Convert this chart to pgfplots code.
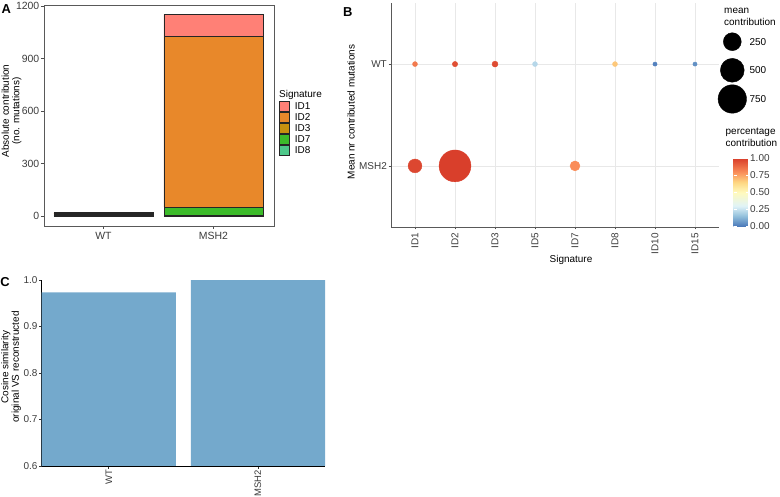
\documentclass[border=0pt]{standalone}
\usepackage{fontspec}
\setmainfont{Liberation Sans}
\usepackage{pgfplots}
\pgfplotsset{compat=1.18}
\usepackage{pgfplotstable}
\usetikzlibrary{calc}

\definecolor{cID1}{RGB}{255,128,118}
\definecolor{cID2}{RGB}{232,136,42}
\definecolor{cID3}{RGB}{200,144,15}
\definecolor{cID7}{RGB}{60,187,42}
\definecolor{cID8}{RGB}{78,200,138}
\definecolor{barC}{RGB}{116,169,204}
\definecolor{tickgray}{RGB}{60,60,60}

\pgfplotsset{
  /pgf/number format/assume math mode=true,
  /pgf/number format/set thousands separator={},
  colormap={rdylbu}{rgb255(0cm)=(74,120,185) rgb255(3cm)=(145,191,219) rgb255(6cm)=(224,243,248) rgb255(10cm)=(255,250,190) rgb255(13cm)=(254,215,130) rgb255(16cm)=(250,141,89) rgb255(20cm)=(217,63,43)},
}

% Panel A: absolute contribution (no. mutations)
\pgfplotstableread{
x ID1 ID2 ID3 ID7 ID8
1 3.4 4.9 7.9 0 3.4
2 128 973 0 50 2
}\absA

% Panel B: mean contribution (v) and percentage contribution (p)
\pgfplotstableread{
x y v p
1 2 3.4 0.85
2 2 4.9 0.96
3 2 7.9 0.97
4 2 3.4 0.22
6 2 3.4 0.68
7 2 1.5 0.02
8 2 1.5 0.05
1 1 128 0.98
2 1 973 1.00
5 1 50 0.80
}\dotB

% Panel B size legend
\pgfplotstableread{
x y v
732.3 455.3 250
732.3 426.7 500
732.3 398.0 750
}\sizeLeg

% Panel C: cosine similarity
\pgfplotstableread{
x cos
1 0.9735
2 0.9995
}\cosC

\newcommand{\fs}[1]{\fontsize{#1}{#1}\selectfont}

\begin{document}
\begin{tikzpicture}
\useasboundingbox (0,0) rectangle (780bp,497bp);

%================ Panel A ================
\begin{axis}[
  at={(44bp,271bp)}, anchor=south west,
  width=230bp, height=221bp, scale only axis,
  xmin=0.46, xmax=2.55, ymin=-57, ymax=1206,
  ybar stacked, bar width=0.9,
  xtick={1,2}, xticklabels={WT,MSH2},
  ytick={0,300,600,900,1200},
  xtick pos=bottom, ytick pos=left,
  tick align=outside, major tick length=3bp,
  axis line style={black!65, line width=0.9bp},
  tick style={black!70, line width=0.6bp},
  tick label style={font=\fs{10.5}, text=tickgray},
  xticklabel style={yshift=0bp},
  yticklabel style={inner sep=1.5bp},
  reverse legend,
  legend style={at={(1.0217,0.567)}, anchor=north west, draw=none, fill=none,
    font=\fs{10}, inner sep=0pt, row sep=0pt,
    nodes={inner sep=0pt, anchor=west},
    /tikz/every even column/.append style={column sep=0bp}},
  legend cell align=left,
  keyimg/.style={legend image code/.code={\draw[##1, draw=black!85, line width=0.6bp] (0bp,-5.2bp) rectangle (9.5bp,5.2bp);}},
]
\addplot+[fill=cID8, draw=black!85, line width=0.75bp, keyimg] table[x=x, y=ID8] {\absA};
\addplot+[fill=cID7, draw=black!85, line width=0.75bp, keyimg] table[x=x, y=ID7] {\absA};
\addplot+[fill=cID3, draw=black!85, line width=0.75bp, keyimg] table[x=x, y=ID3] {\absA};
\addplot+[fill=cID2, draw=black!85, line width=0.75bp, keyimg] table[x=x, y=ID2] {\absA};
\addplot+[fill=cID1, draw=black!85, line width=0.75bp, keyimg] table[x=x, y=ID1] {\absA};
\legend{\ \ ID8,\ \ ID7,\ \ ID3,\ \ ID2,\ \ ID1}
\end{axis}
\node[anchor=west, font=\fs{10}, inner sep=0pt] at (279bp,402bp) {Signature};
\node[rotate=90, align=center, font=\fontsize{10}{10.5}\selectfont, inner sep=0pt] at (11.5bp,386bp) {Absolute contribution\\(no. mutations)};
\node[font=\bfseries\fs{13}, inner sep=0pt] at (6.2bp,487.5bp) {A};

%================ Panel B ================
\begin{axis}[
  at={(391bp,270bp)}, anchor=south west,
  width=328bp, height=224bp, scale only axis,
  xmin=0.4, xmax=8.6, ymin=0.4, ymax=2.6,
  axis x line=bottom, axis y line=left,
  axis line style={-, black!65, line width=0.9bp},
  xtick={1,...,8}, xticklabels={ID1,ID2,ID3,ID5,ID7,ID8,ID10,ID15},
  ytick={1,2}, yticklabels={MSH2,WT},
  tick align=outside, major tick length=2.5bp,
  tick style={black!70, line width=0.6bp},
  tick label style={font=\fs{10}, text=tickgray},
  xticklabel style={rotate=90, anchor=east},
  yticklabel style={inner sep=1.5bp},
  grid=major, grid style={black!9, line width=0.7bp},
  point meta min=0, point meta max=1,
  colormap name=rdylbu,
  colorbar,
  colorbar style={
    at={($(parent axis.south east)+(6bp,0.5bp)$)}, anchor=south west,
    width=15bp, height=68bp, scale only axis,
    ytick={0,0.25,0.5,0.75,1},
    yticklabel pos=right,
    yticklabel style={font=\fs{10}, text=tickgray, inner sep=1.5bp,
      /pgf/number format/.cd, fixed, fixed zerofill, precision=2},
    axis line style={draw=none},
    major tick length=3bp, tick align=inside,
    tick style={white, line width=0.6bp},
  },
]
\addplot[scatter, only marks, mark=*, scatter src=explicit,
  scatter/use mapped color={draw=mapped color, fill=mapped color},
  visualization depends on={(1.8+14.2*sqrt(max(\thisrow{v}-1,0)/972)) \as \rad},
  scatter/@pre marker code/.append style={/tikz/mark size=\rad}]
  table[x=x, y=y, meta=p] {\dotB};
\end{axis}
\node[rotate=90, font=\fs{10}, inner sep=0pt] at (351bp,385bp) {Mean nr contributed mutations};
\node[font=\fs{10}, inner sep=0pt] at (571bp,237bp) {Signature};
\node[font=\bfseries\fs{13}, inner sep=0pt] at (347.7bp,485bp) {B};
% legend titles
\node[anchor=west, align=left, font=\fontsize{10}{12}\selectfont, inner sep=0pt] at (724bp,480bp) {mean\\contribution};
\node[anchor=west, align=left, font=\fontsize{10}{12}\selectfont, inner sep=0pt] at (725.5bp,359.5bp) {percentage\\contribution};
\node[anchor=west, font=\fs{10}, inner sep=0pt] at (749.3bp,455.3bp) {250};
\node[anchor=west, font=\fs{10}, inner sep=0pt] at (749.3bp,426.7bp) {500};
\node[anchor=west, font=\fs{10}, inner sep=0pt] at (749.3bp,398bp) {750};

% size legend drawn through a hidden overlay axis in pixel coordinates
\begin{axis}[
  at={(0,0)}, anchor=south west, width=780bp, height=497bp, scale only axis,
  xmin=0, xmax=780, ymin=0, ymax=497, hide axis, clip=false,
]
\addplot[scatter, only marks, mark=*,
  scatter/use mapped color={draw=black, fill=black},
  visualization depends on={(1.8+14.2*sqrt(max(\thisrow{v}-1,0)/972)) \as \rad},
  scatter/@pre marker code/.append style={/tikz/mark size=\rad}]
  table[x=x, y=y] {\sizeLeg};
\end{axis}

%================ Panel C ================
\begin{axis}[
  at={(41.7bp,31bp)}, anchor=south west,
  width=283.3bp, height=186bp, scale only axis,
  xmin=0.55, xmax=2.45, ymin=0.6, ymax=1.0,
  axis x line=bottom, axis y line=left,
  axis line style={-, black, line width=0.9bp},
  ybar, bar width=0.9,
  xtick={1,2}, xticklabels={WT,MSH2},
  ytick={0.6,0.7,0.8,0.9,1.0},
  yticklabel style={inner sep=1.5bp, /pgf/number format/.cd, fixed, fixed zerofill, precision=1},
  tick align=outside, major tick length=2.5bp,
  tick style={black!80, line width=0.6bp},
  tick label style={font=\fs{10}, text=tickgray},
  xticklabel style={rotate=90, anchor=east, font=\fs{9.5}, inner sep=1.5bp},
  clip=true,
]
\addplot[fill=barC, draw=none] table[x=x, y=cos] {\cosC};
\end{axis}
\node[rotate=90, align=center, font=\fontsize{10}{10.5}\selectfont, inner sep=0pt] at (11bp,130bp) {Cosine similarity\\original VS reconstructed};
\node[font=\bfseries\fs{13}, inner sep=0pt] at (5bp,215.3bp) {C};
\end{tikzpicture}
\end{document}
